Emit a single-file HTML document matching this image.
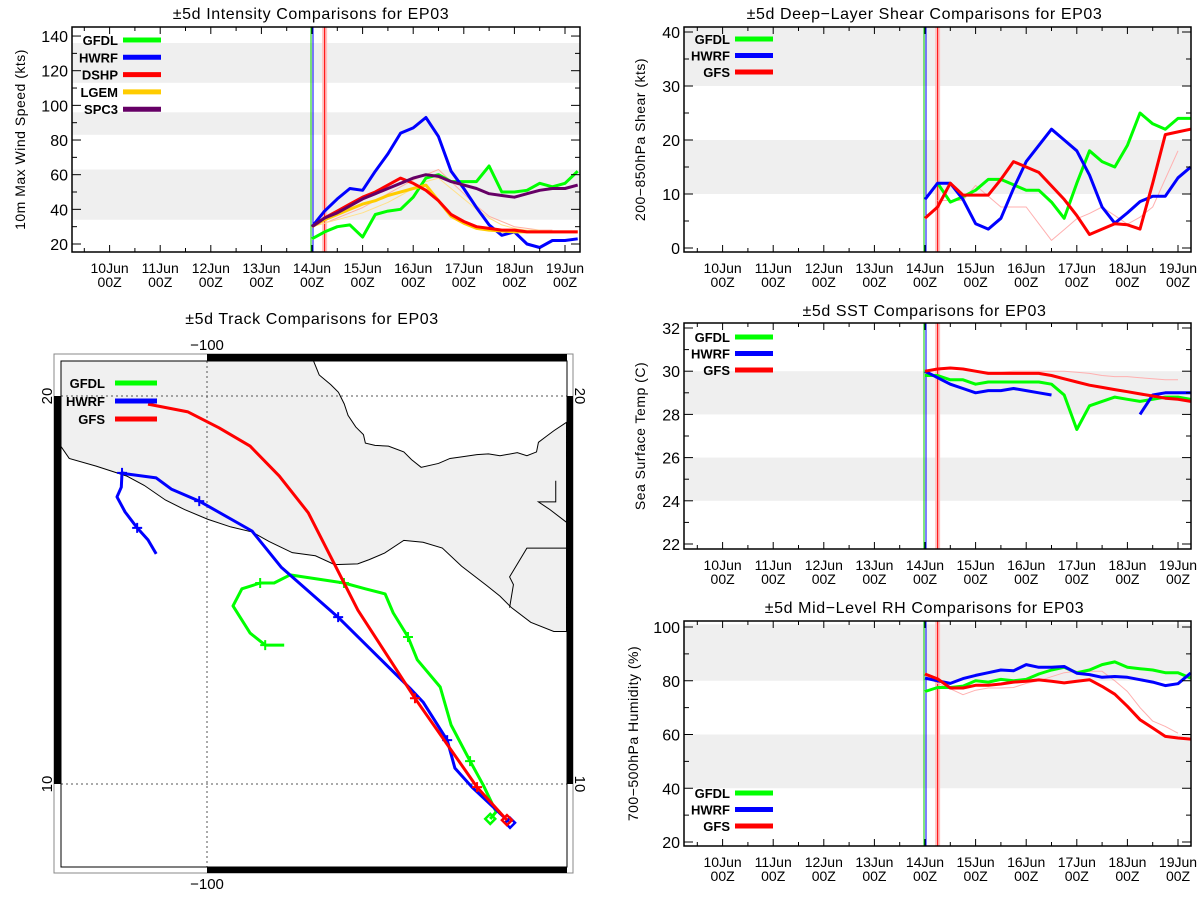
<!DOCTYPE html>
<html><head><meta charset="utf-8"><style>
html,body{margin:0;padding:0;background:#fff;}
svg{display:block;font-family:"Liberation Sans",sans-serif;}
</style></head><body>
<svg id="root" width="1200" height="900" viewBox="0 0 1200 900"></svg>
<script>
// ===== Data (days since 14Jun 00Z, 6-hourly) =====
const dayLabels = ["10Jun","11Jun","12Jun","13Jun","14Jun","15Jun","16Jun","17Jun","18Jun","19Jun"];
const dayOffsets = [-4,-3,-2,-1,0,1,2,3,4,5];
// Intensity (kts)
const intGFDL = [23,27,30,31,24,37,39,40,47,58,60,56,56,56,65,50,50,51,55,53,55,62];
const intHWRF = [30,39,46,52,51,62,72,84,87,93,82,62,52,41,31,25,27,20,18,22,22,23];
const intDSHP = [30,35,39,43,47,50,54,58,55,51,45,37,33,30,29,28,28,27,27,27,27,27];
const intLGEM = [30,34,37,40,43,45,48,50,52,54,45,36,32,29,28,27.5,27,27,27,27,27,27];
const intSPC3 = [30,35,38,42,46,49,52,55,58,60,59,56,54,52,49,48,47,49,51,52,52,54];
const intDSHPold = [30,32,35,38,41,45,49,53,57,60,63,56,49,42,36,33,30,29,28,28];
const intLGEMold = [30,32,34,36,38,41,44,48,52,56,58,52,46,40,35,31,29,28,28];
const intTicks = [20,40,60,80,100,120,140];
const intBands = [[34,63],[83,96],[113,136]];
// Shear (kts)
const shrGFDL = [null,12,8.5,9.5,10.7,12.7,12.7,11.7,10.7,10.7,8.5,5.5,12,18,16,15,19,25,23,22,24,24];
const shrHWRF = [9,12,12,9,4.5,3.5,5.5,11,16,19,22,20,18,13.5,7.6,4.6,6.5,8.6,9.6,9.6,13,15];
const shrGFS  = [5.5,7.6,12,9.8,9.8,9.8,12.7,16,15,14,11.5,9,6,2.5,3.5,4.5,4.3,3.5,12,21,21.5,22];
const shrGFSold = [null,8.8,8.8,8.8,11.6,9.6,7.6,7.6,7.6,4.5,1.4,3.4,5.4,6.4,7.6,6,4.4,5.7,7.6,12.8,18];
const shrTicks = [0,10,20,30,40];
const shrBands = [[10,20],[30,41]];
// SST (C)
const sstGFDL = [29.8,29.8,29.6,29.6,29.4,29.5,29.5,29.5,29.5,29.5,29.4,28.9,27.3,28.4,28.6,28.8,28.7,28.6,28.7,28.8,28.8,28.7];
const sstHWRF = [30.0,29.7,29.4,29.2,29.0,29.1,29.1,29.2,29.1,29.0,28.9,null,null,null,null,null,null,28.0,28.9,29.0,29.0,29.0];
const sstGFS  = [30.0,30.1,30.15,30.1,30.0,29.9,29.9,29.9,29.9,29.9,29.8,29.65,29.5,29.35,29.25,29.15,29.05,28.95,28.85,28.75,28.7,28.6];
const sstGFSold = [30.0,30.1,30.15,30.1,30.0,29.95,29.95,30.0,30.0,30.0,30.0,30.0,29.95,29.9,29.8,29.75,29.75,29.7,29.65,29.6,29.6];
const sstTicks = [22,24,26,28,30,32];
const sstBands = [[28,30],[24,26]];
// RH (%)
const rhGFDL = [76,77.5,77.5,78,80,79.5,80.5,80,80.5,82.5,84,85,83,84,86,87,85,84.5,84,83,83,81];
const rhHWRF = [81,80,79,80.8,82,83,84,83.7,86,85,85,85.3,82.8,82.3,81.3,81.6,81.3,80.4,79.5,78.2,78.9,82.9];
const rhGFS  = [82.5,80.7,77.3,77.3,78.3,78.3,78.8,79.5,79.8,80.3,79.8,79.2,79.8,80.4,77.9,75,70.5,65.5,62.4,59.3,58.7,58.3];
const rhGFSold = [82,79,77,74.8,76.5,77.3,77.3,77.5,79,80,81.5,83,83.5,83.5,83.5,80,76,70,65,63,60.5];
const rhTicks = [20,40,60,80,100];
const rhBands = [[80,101],[40,60]];
// Track (lon, lat)
const trkGFDLlon = [-92.70,-92.55,-92.88,-93.22,-93.71,-93.99,-94.58,-94.82,-95.20,-95.41,-95.92,-96.47,-97.86,-98.27,-98.63,-99.10,-99.33,-98.89,-98.50,-98.01];
const trkGFDLlat = [9.10,9.28,9.97,10.59,11.52,12.50,13.20,13.79,14.41,14.90,15.03,15.18,15.39,15.18,15.18,15.03,14.59,13.89,13.58,13.58];
const trkHWRFlon = [-92.19,-93.17,-93.61,-93.81,-94.43,-94.77,-96.62,-98.09,-98.84,-100.20,-100.92,-101.31,-102.06,-102.19,-102.21,-102.32,-102.11,-101.80,-101.52,-101.31];
const trkHWRFlat = [9.00,9.92,10.41,11.13,12.11,12.47,14.30,15.59,16.52,17.29,17.60,17.89,17.99,18.02,17.65,17.40,17.01,16.60,16.29,15.93];
const trkGFSlon = [-92.27,-93.04,-94.64,-96.11,-96.70,-97.39,-98.14,-98.89,-99.69,-100.49,-101.52];
const trkGFSlat = [9.07,9.92,12.21,14.48,15.64,16.99,17.94,18.71,19.18,19.59,19.79];
const trkGFDLticks = [3,7,11,14,18];
const trkHWRFticks = [3,6,9,13,17];
const trkGFSticks = [1,2];

const NS = "http://www.w3.org/2000/svg";
const root = document.getElementById("root");
function mk(tag, attrs, parent){ const e=document.createElementNS(NS,tag); for(const k in attrs) e.setAttribute(k,attrs[k]); (parent||root).appendChild(e); return e; }
function txt(s, attrs, parent){ const e=mk("text",attrs,parent); e.textContent=s; return e; }

function chart(cfg){
  const g = mk("g",{});
  
  
  const L=cfg.left,R=cfg.right,T=cfg.top,B=cfg.bottom;
  const x = d => cfg.x0 + d*50.6;
  const y = v => cfg.yRef - (v-cfg.vRef)*cfg.ppu;
  const cl = "clip-"+cfg.name;
  const cp = mk("clipPath",{id:cl},g); mk("rect",{x:L,y:T,width:R-L,height:B-T},cp);
  cfg.bands.forEach(b=>{
    const r = mk("rect",{x:L,y:Math.max(T,y(b[1])),width:R-L,height:Math.min(B,y(b[0]))-Math.max(T,y(b[1])),fill:"#efefef"},g);
    
    
  });
  const vl = mk("g",{},g);
  
  
  mk("rect",{x:x(0.25)-2.5,y:T,width:5,height:B-T,fill:"#ffc0c0"},vl);
  mk("line",{x1:x(0.25),x2:x(0.25),y1:T,y2:B,stroke:"#ff0000","stroke-width":1},vl);
  mk("line",{x1:x(0)-1,x2:x(0)-1,y1:T,y2:B,stroke:"#00cc00","stroke-width":1},vl);
  mk("line",{x1:x(0)+1,x2:x(0)+1,y1:T,y2:B,stroke:"#0000ff","stroke-width":1},vl);
  cfg.series.forEach(s=>{
    let segs=[],cur=[];
    s.data.forEach((v,i)=>{ if(v===null){ if(cur.length) segs.push(cur); cur=[]; } else cur.push(x(i*0.25).toFixed(1)+","+y(v).toFixed(1)); });
    if(cur.length) segs.push(cur);
    segs.forEach(sg=>{
      const p = mk("polyline",{points:sg.join(" "),fill:"none",stroke:s.color,"stroke-width":s.w,"stroke-linejoin":"round","clip-path":"url(#"+cl+")"},g);
      
      
    });
  });
  const bx = mk("rect",{x:L,y:T,width:R-L,height:B-T,fill:"none",stroke:"#000","stroke-width":1.5},g);
  
  
  for(let d=-5; d<=6; d+=0.5){
    const xx=x(d); if(xx<L+1||xx>R-1) continue;
    const len = (d%1===0)?7:4;
    mk("line",{x1:xx,x2:xx,y1:B,y2:B-len,stroke:"#000"},g);
    mk("line",{x1:xx,x2:xx,y1:T,y2:T+len,stroke:"#000"},g);
  }
  dayLabels.forEach((lab,i)=>{
    const t1 = txt(lab,{x:x(dayOffsets[i]),y:B+21,"text-anchor":"middle","font-size":14},g);
    
    
    const t2 = txt("00Z",{x:x(dayOffsets[i]),y:B+35,"text-anchor":"middle","font-size":14},g);
    
    
  });
  const step = cfg.minor;
  for(let v=cfg.ticks[0]; v<=cfg.ticks[cfg.ticks.length-1]+0.001; v+=step){
    const yy=y(v);
    const major = cfg.ticks.some(t=>Math.abs(t-v)<1e-6);
    const len = major?9:5;
    mk("line",{x1:L,x2:L+len,y1:yy,y2:yy,stroke:"#000"},g);
    mk("line",{x1:R,x2:R-len,y1:yy,y2:yy,stroke:"#000"},g);
  }
  cfg.ticks.forEach(t=>{
    const e = txt(String(t),{x:L-4,y:y(t)+6,"text-anchor":"end","font-size":16},g);
    
    
  });
  const tt = txt(cfg.title,{x:(L+R)/2+cfg.titleDx,y:cfg.titleY,"text-anchor":"middle","font-size":16,"letter-spacing":"0.6"},g);
  
  
  const yt = txt(cfg.ytitle,{x:0,y:0,"text-anchor":"middle","font-size":14,"letter-spacing":"0.5",transform:"translate("+cfg.ytX+","+((T+B)/2)+") rotate(-90)"},g);
  
  
  cfg.legend.forEach((it,i)=>{
    const lg = mk("g",{},g);
    
    
    const ly = cfg.legY + i*cfg.legDy;
    txt(it[0],{x:cfg.legTextX,y:ly+5,"text-anchor":"end","font-size":13,"font-weight":"bold"},lg);
    mk("line",{x1:cfg.legLine[0],x2:cfg.legLine[1],y1:ly,y2:ly,stroke:it[1],"stroke-width":5},lg);
  });
}

chart({name:"intensity-chart",left:72,right:580,top:27,bottom:252,x0:312,yRef:244,vRef:20,ppu:1.733,
  ticks:intTicks,minor:10,bands:intBands,title:"\u00b15d Intensity Comparisons for EP03",titleY:19,titleDx:-15,
  ytitle:"10m Max Wind Speed (kts)",ytX:25,legY:40,legDy:17.3,legTextX:118,legLine:[123,161],
  legend:[["GFDL","#00ff00"],["HWRF","#0000ff"],["DSHP","#ff0000"],["LGEM","#ffcc00"],["SPC3","#660066"]],
  series:[
    {name:"dshp-previous-line",data:intDSHPold,color:"#ffb0a0",w:1},
    {name:"lgem-previous-line",data:intLGEMold,color:"#ffe08a",w:1},
    {name:"gfdl-line",data:intGFDL,color:"#00ff00",w:3},
    {name:"hwrf-line",data:intHWRF,color:"#0000ff",w:3},
    {name:"lgem-line",data:intLGEM,color:"#ffcc00",w:3},
    {name:"dshp-line",data:intDSHP,color:"#ff0000",w:3},
    {name:"spc3-line",data:intSPC3,color:"#660066",w:3}]});

chart({name:"shear-chart",left:684,right:1191,top:27,bottom:252,x0:925,yRef:248,vRef:0,ppu:5.4,
  ticks:shrTicks,minor:5,bands:shrBands,title:"\u00b15d Deep\u2212Layer Shear Comparisons for EP03",titleY:19,titleDx:-13,
  ytitle:"200\u2212850hPa Shear (kts)",ytX:645,legY:39,legDy:16.5,legTextX:730,legLine:[735,773],
  legend:[["GFDL","#00ff00"],["HWRF","#0000ff"],["GFS","#ff0000"]],
  series:[
    {name:"gfs-previous-line",data:shrGFSold,color:"#ffb0b0",w:1},
    {name:"gfdl-line",data:shrGFDL,color:"#00ff00",w:3},
    {name:"hwrf-line",data:shrHWRF,color:"#0000ff",w:3},
    {name:"gfs-line",data:shrGFS,color:"#ff0000",w:3}]});

chart({name:"sst-chart",left:684,right:1191,top:323,bottom:549,x0:925,yRef:544,vRef:22,ppu:21.6,
  ticks:sstTicks,minor:1,bands:sstBands,title:"\u00b15d SST Comparisons for EP03",titleY:316,titleDx:-13,
  ytitle:"Sea Surface Temp (C)",ytX:645,legY:337,legDy:16.5,legTextX:730,legLine:[735,773],
  legend:[["GFDL","#00ff00"],["HWRF","#0000ff"],["GFS","#ff0000"]],
  series:[
    {name:"gfs-previous-line",data:sstGFSold,color:"#ffb0b0",w:1},
    {name:"gfdl-line",data:sstGFDL,color:"#00ff00",w:3},
    {name:"hwrf-line",data:sstHWRF,color:"#0000ff",w:3},
    {name:"gfs-line",data:sstGFS,color:"#ff0000",w:3}]});

chart({name:"rh-chart",left:684,right:1191,top:621,bottom:846,x0:925,yRef:842,vRef:20,ppu:2.6875,
  ticks:rhTicks,minor:10,bands:rhBands,title:"\u00b15d Mid\u2212Level RH Comparisons for EP03",titleY:613,titleDx:-13,
  ytitle:"700\u2212500hPa Humidity (%)",ytX:638,legY:793,legDy:16.5,legTextX:730,legLine:[735,773],
  legend:[["GFDL","#00ff00"],["HWRF","#0000ff"],["GFS","#ff0000"]],
  series:[
    {name:"gfs-previous-line",data:rhGFSold,color:"#ffb0b0",w:1},
    {name:"gfdl-line",data:rhGFDL,color:"#00ff00",w:3},
    {name:"hwrf-line",data:rhHWRF,color:"#0000ff",w:3},
    {name:"gfs-line",data:rhGFS,color:"#ff0000",w:3}]});

// ===== Track map =====
(function(){
  const g = mk("g",{});
  
  
  const px = lon => 207 + (lon+100)*38.8;
  const py = lat => 396 + (20-lat)*38.8;
  const t = txt("\u00b15d Track Comparisons for EP03",{x:312,y:324,"text-anchor":"middle","font-size":16,"letter-spacing":"0.6"},g);
  
  
  mk("rect",{x:54,y:354,width:519,height:519,fill:"#fff",stroke:"#888","stroke-width":1},g);
  const cp = mk("clipPath",{id:"mapclip"},g); mk("rect",{x:61,y:361,width:506,height:506},cp);
  const landWrap = mk("g",{"clip-path":"url(#mapclip)"},g);
  const land = mk("g",{transform:"translate(0,300) scale(0.3846)"},landWrap);
  
  
  mk("path",{d:"M158,158 L815,158 L830,195 L860,220 L880,240 L895,270 L905,300 L925,330 L945,350 L950,372 L975,378 L1010,380 L1050,395 L1070,415 L1095,435 L1140,425 L1170,412 L1200,408 L1240,402 L1270,400 L1300,405 L1345,397 L1370,405 L1395,395 L1400,370 L1420,355 L1440,340 L1473,318 L1473,862 L1440,862 L1380,838 L1330,800 L1300,770 L1265,742 L1200,692 L1150,645 L1100,630 L1050,625 L1000,658 L960,675 L930,686 L870,688 L820,665 L760,657 L700,628 L655,603 L600,590 L540,570 L480,545 L430,520 L375,482 L330,458 L250,432 L180,412 L158,380 Z",fill:"#f0f0f0",stroke:"#000","stroke-width":2.6},land);
  mk("path",{d:"M1445,470 L1445,525 L1400,525 L1430,545 L1473,578 M1473,645 L1370,645 L1325,720 L1335,740 L1325,800",fill:"none",stroke:"#000","stroke-width":2.6},land);
  mk("line",{x1:207,x2:207,y1:361,y2:867,stroke:"#555","stroke-dasharray":"2,3"},g);
  mk("line",{x1:61,x2:567,y1:396,y2:396,stroke:"#555","stroke-dasharray":"2,3"},g);
  mk("line",{x1:61,x2:567,y1:784,y2:784,stroke:"#555","stroke-dasharray":"2,3"},g);
  mk("rect",{x:61,y:361,width:506,height:506,fill:"none",stroke:"#000","stroke-width":1},g);
  mk("rect",{x:54,y:396,width:7,height:388,fill:"#000"},g);
  mk("rect",{x:567,y:396,width:6,height:388,fill:"#000"},g);
  mk("rect",{x:207,y:354,width:360,height:7,fill:"#000"},g);
  mk("rect",{x:207,y:867,width:360,height:6,fill:"#000"},g);
  [["\u2212100",207,350],["\u2212100",207,889]].forEach(a=>{
    const e=txt(a[0],{x:a[1],y:a[2],"text-anchor":"middle","font-size":15},g);
    
    
  });
  [["20",47,396,-90],["10",47,784,-90],["20",580,396,90],["10",580,784,90]].forEach(a=>{
    const e=txt(a[0],{x:0,y:5,"text-anchor":"middle","font-size":15,transform:"translate("+a[1]+","+a[2]+") rotate("+a[3]+")"},g);
    
    
  });
  const tracks=[["gfdl-track",trkGFDLlon,trkGFDLlat,trkGFDLticks,"#00ff00"],["hwrf-track",trkHWRFlon,trkHWRFlat,trkHWRFticks,"#0000ff"],["gfs-track",trkGFSlon,trkGFSlat,trkGFSticks,"#ff0000"]];
  tracks.forEach(tr=>{
    const tg = mk("g",{"clip-path":"url(#mapclip)"},g);
    
    
    mk("polyline",{points:tr[1].map((lo,i)=>px(lo).toFixed(1)+","+py(tr[2][i]).toFixed(1)).join(" "),fill:"none",stroke:tr[4],"stroke-width":3,"stroke-linejoin":"round"},tg);
    tr[3].forEach(i=>{
      const cx=px(tr[1][i]),cy=py(tr[2][i]);
      mk("path",{d:"M"+(cx-5)+","+cy+" h10 M"+cx+","+(cy-5)+" v10",stroke:tr[4],"stroke-width":2},tg);
    });
    const cx=px(tr[1][0]),cy=py(tr[2][0]);
    mk("path",{d:"M"+cx+","+(cy-5)+" l5,5 l-5,5 l-5,-5 Z",fill:"none",stroke:tr[4],"stroke-width":2.5},tg);
  });
  [["GFDL","#00ff00",383],["HWRF","#0000ff",401],["GFS","#ff0000",419]].forEach(it=>{
    const lg = mk("g",{},g);
    
    
    txt(it[0],{x:105,y:it[2]+5,"text-anchor":"end","font-size":13,"font-weight":"bold"},lg);
    mk("line",{x1:115,x2:157,y1:it[2],y2:it[2],stroke:it[1],"stroke-width":5},lg);
  });
})();
</script>
</body></html>
